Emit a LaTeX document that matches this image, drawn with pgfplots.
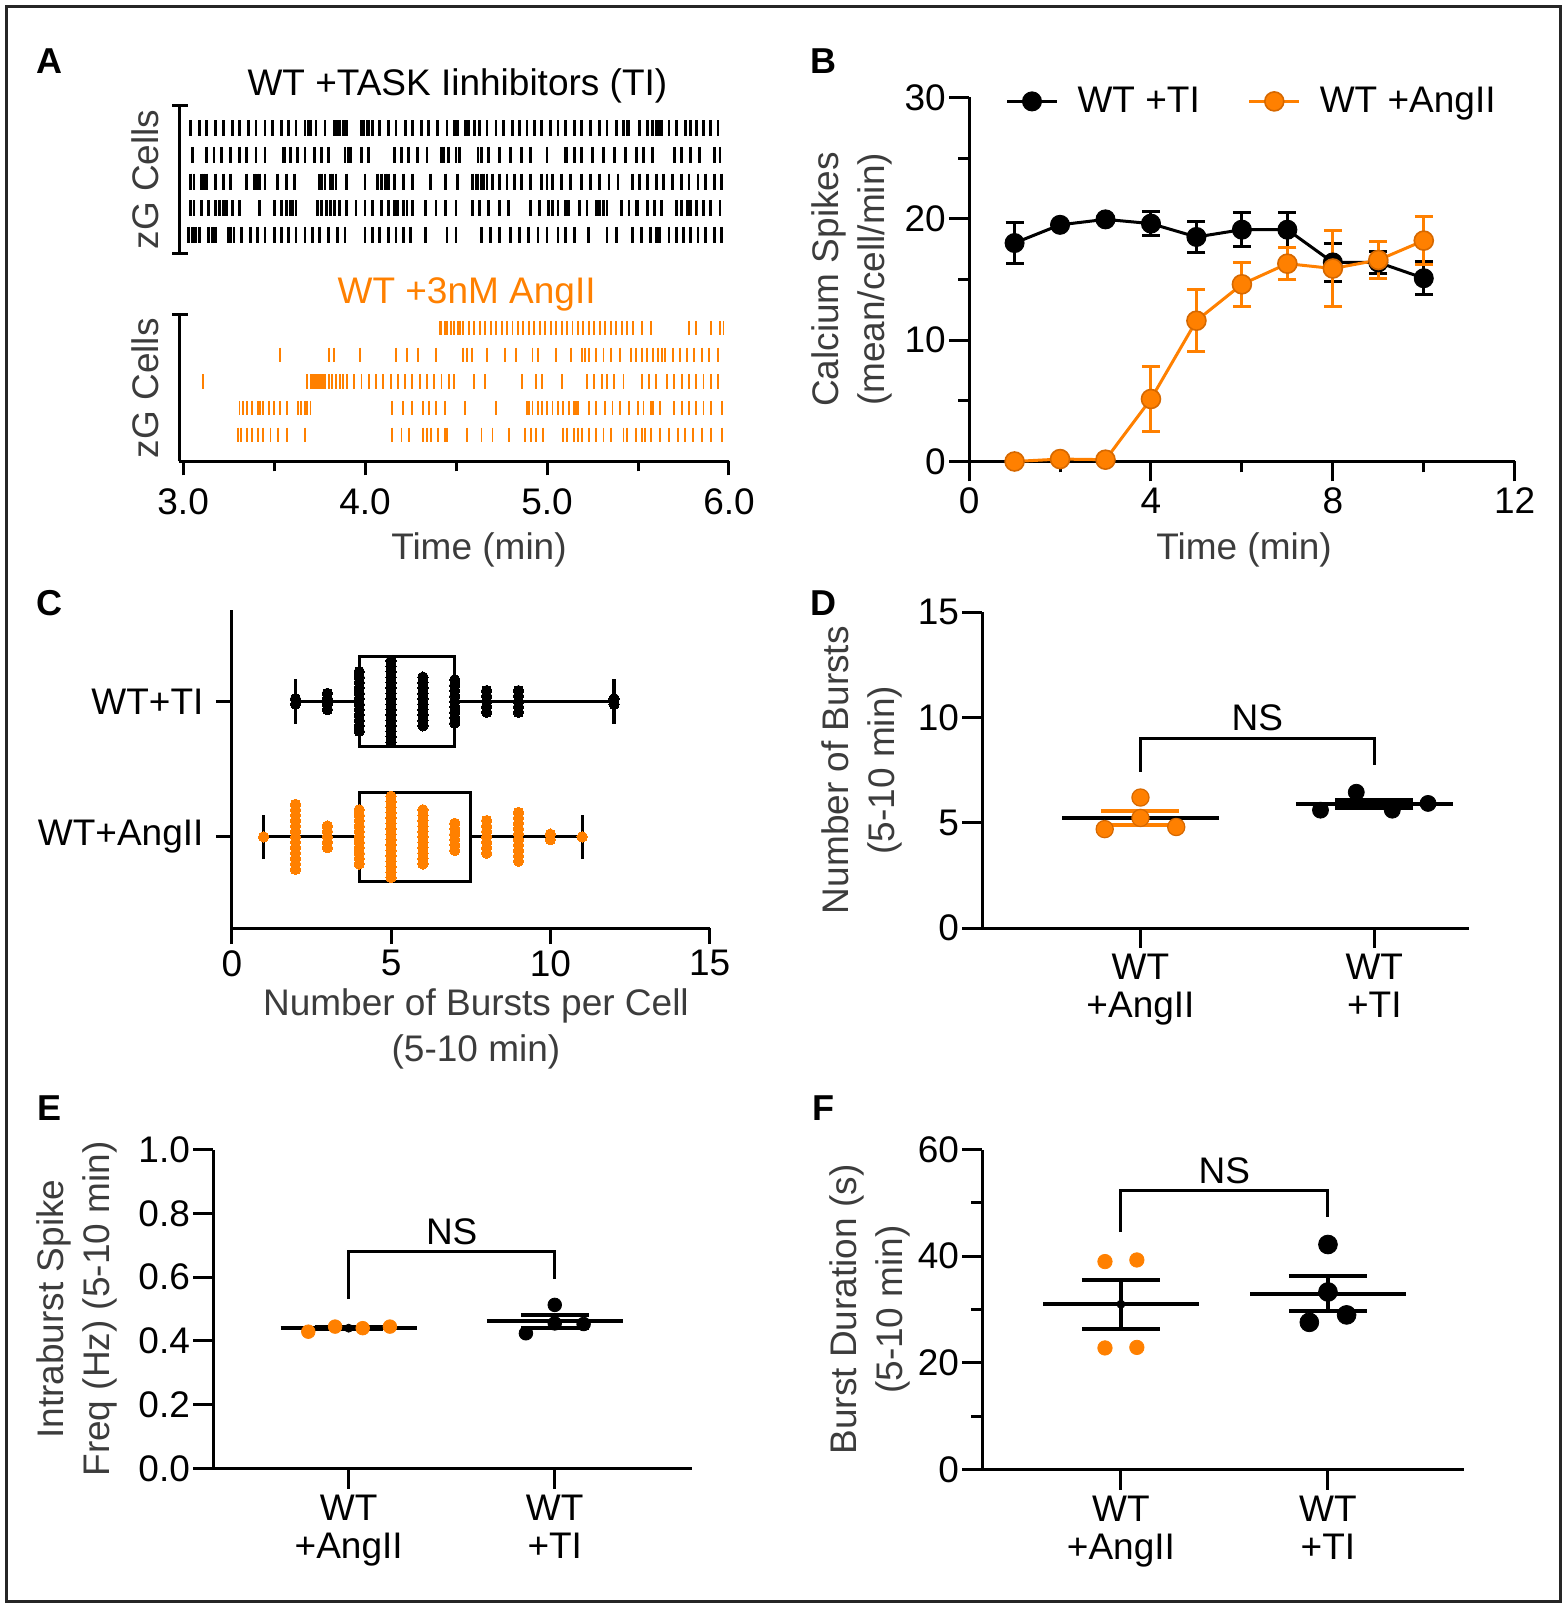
\documentclass[border=0pt]{standalone}
\usepackage{fontspec}
\setmainfont{Liberation Sans}
\usepackage{pgfplots}
\pgfplotsset{compat=1.18}
\usepgfplotslibrary{statistics}
\definecolor{org}{RGB}{255,128,0}
\definecolor{orgd}{RGB}{214,104,0}
\definecolor{lab}{RGB}{60,60,60}
\newcommand{\tfont}{\fontsize{18.5}{19}\selectfont}
\newcommand{\lfont}{\fontsize{18.5}{23}\selectfont}
\pgfplotsset{
  base/.style={
    scale only axis, anchor=south west, clip=false,
    axis x line=bottom, axis y line=left,
    axis line style={line width=1.5pt, -},
    tick style={line width=1.5pt, black},
    tick align=outside,
    major tick length=10pt, minor tick length=5.5pt,
    /pgf/number format/assume math mode=true,
    tick label style={font=\tfont, black},
    xticklabel style={inner sep=3pt},
    yticklabel style={inner sep=1.5pt},
    label style={font=\lfont, text=lab},
    title style={font=\lfont},
  },
  raster/.style={only marks, mark=|, mark size=4pt, mark options={line width=1.4pt}, black},
  oraster/.style={only marks, mark=|, mark size=3.6pt, mark options={line width=0.95pt}, org},
}
\begin{document}
\begin{tikzpicture}
\path (0,0) rectangle (783.5pt,804pt);
\draw[line width=1.5pt, black!85] (3.1pt,3.1pt) rectangle (780.4pt,800.9pt);
% panel letters
\begin{scope}[every node/.style={font=\fontsize{18}{20}\selectfont\bfseries}]
\node at (24.6pt,773.25pt) {A};
\node at (411.75pt,773.25pt) {B};
\node at (24.6pt,502.5pt) {C};
\node at (411.75pt,502.5pt) {D};
\node at (24.6pt,249.7pt) {E};
\node at (411.75pt,249.7pt) {F};
\end{scope}

% ---------- A top raster ----------
\begin{axis}[base, at={(89.75pt,677.35pt)}, width=274.75pt, height=73.85pt,
  xmin=2.98, xmax=6, ymin=0.31, ymax=5.85, axis x line=none, xtick=\empty, ytick=\empty,
  title={WT +TASK Iinhibitors (TI)}, title style={at={(axis description cs:0.5057,1)}, anchor=base, yshift=-1.2pt, text=black},
  ylabel={zG Cells}, ylabel style={at={(axis description cs:-0.0617,0.5)}, anchor=center}]
\draw[line width=1.5pt] ([xshift=-3.5pt]rel axis cs:0,0) -- ([xshift=4.5pt]rel axis cs:0,0);
\draw[line width=1.5pt] ([xshift=-3.5pt]rel axis cs:0,1) -- ([xshift=4.5pt]rel axis cs:0,1);
\addplot[raster] coordinates {(3.04,5)(3.09,5)(3.13,5)(3.18,5)(3.22,5)(3.27,5)(3.31,5)(3.36,5)(3.40,5)(3.45,5)(3.49,5)(3.54,5)(3.58,5)(3.62,5)(3.67,5)(3.69,5)(3.70,5)(3.73,5)(3.78,5)(3.83,5)(3.85,5)(3.86,5)(3.88,5)(3.90,5)(3.98,5)(3.99,5)(4.01,5)(4.02,5)(4.04,5)(4.08,5)(4.13,5)(4.17,5)(4.22,5)(4.26,5)(4.31,5)(4.35,5)(4.40,5)(4.45,5)(4.49,5)(4.51,5)(4.55,5)(4.57,5)(4.60,5)(4.63,5)(4.67,5)(4.72,5)(4.76,5)(4.81,5)(4.85,5)(4.89,5)(4.93,5)(4.97,5)(5.02,5)(5.06,5)(5.10,5)(5.15,5)(5.19,5)(5.24,5)(5.29,5)(5.33,5)(5.38,5)(5.42,5)(5.44,5)(5.45,5)(5.51,5)(5.55,5)(5.58,5)(5.60,5)(5.62,5)(5.63,5)(5.67,5)(5.71,5)(5.76,5)(5.79,5)(5.82,5)(5.86,5)(5.90,5)(5.94,5)};
\addplot[raster] coordinates {(3.05,4)(3.13,4)(3.17,4)(3.21,4)(3.26,4)(3.31,4)(3.35,4)(3.40,4)(3.45,4)(3.55,4)(3.56,4)(3.59,4)(3.63,4)(3.67,4)(3.72,4)(3.76,4)(3.80,4)(3.89,4)(3.91,4)(3.92,4)(3.98,4)(4.02,4)(4.16,4)(4.20,4)(4.24,4)(4.29,4)(4.34,4)(4.42,4)(4.43,4)(4.46,4)(4.50,4)(4.52,4)(4.62,4)(4.64,4)(4.68,4)(4.74,4)(4.80,4)(4.86,4)(4.91,4)(5.00,4)(5.10,4)(5.11,4)(5.15,4)(5.19,4)(5.25,4)(5.31,4)(5.37,4)(5.43,4)(5.49,4)(5.53,4)(5.58,4)(5.70,4)(5.74,4)(5.79,4)(5.84,4)(5.92,4)(5.95,4)};
\addplot[raster] coordinates {(3.04,3)(3.06,3)(3.10,3)(3.11,3)(3.13,3)(3.18,3)(3.22,3)(3.26,3)(3.35,3)(3.39,3)(3.41,3)(3.42,3)(3.45,3)(3.52,3)(3.57,3)(3.61,3)(3.75,3)(3.76,3)(3.78,3)(3.81,3)(3.82,3)(3.84,3)(3.90,3)(4.00,3)(4.07,3)(4.09,3)(4.11,3)(4.13,3)(4.16,3)(4.21,3)(4.26,3)(4.36,3)(4.44,3)(4.51,3)(4.59,3)(4.61,3)(4.62,3)(4.64,3)(4.65,3)(4.67,3)(4.70,3)(4.74,3)(4.78,3)(4.82,3)(4.86,3)(4.91,3)(4.97,3)(5.00,3)(5.03,3)(5.08,3)(5.13,3)(5.19,3)(5.24,3)(5.29,3)(5.34,3)(5.39,3)(5.47,3)(5.51,3)(5.55,3)(5.60,3)(5.64,3)(5.69,3)(5.74,3)(5.78,3)(5.83,3)(5.87,3)(5.92,3)(5.96,3)};
\addplot[raster] coordinates {(3.04,2)(3.06,2)(3.10,2)(3.14,2)(3.18,2)(3.20,2)(3.22,2)(3.24,2)(3.27,2)(3.31,2)(3.42,2)(3.50,2)(3.54,2)(3.57,2)(3.59,2)(3.60,2)(3.62,2)(3.74,2)(3.76,2)(3.79,2)(3.81,2)(3.83,2)(3.86,2)(3.90,2)(3.95,2)(4.00,2)(4.04,2)(4.09,2)(4.13,2)(4.16,2)(4.18,2)(4.21,2)(4.23,2)(4.26,2)(4.33,2)(4.39,2)(4.44,2)(4.50,2)(4.59,2)(4.63,2)(4.68,2)(4.74,2)(4.79,2)(4.91,2)(4.96,2)(5.01,2)(5.03,2)(5.06,2)(5.10,2)(5.12,2)(5.18,2)(5.22,2)(5.27,2)(5.29,2)(5.31,2)(5.33,2)(5.41,2)(5.45,2)(5.49,2)(5.50,2)(5.55,2)(5.59,2)(5.63,2)(5.71,2)(5.74,2)(5.77,2)(5.79,2)(5.82,2)(5.86,2)(5.90,2)(5.95,2)};
\addplot[raster] coordinates {(3.03,1)(3.05,1)(3.07,1)(3.09,1)(3.14,1)(3.16,1)(3.18,1)(3.25,1)(3.26,1)(3.28,1)(3.32,1)(3.37,1)(3.41,1)(3.45,1)(3.50,1)(3.54,1)(3.58,1)(3.62,1)(3.67,1)(3.71,1)(3.75,1)(3.80,1)(3.85,1)(3.89,1)(4.00,1)(4.04,1)(4.08,1)(4.13,1)(4.17,1)(4.21,1)(4.25,1)(4.33,1)(4.45,1)(4.50,1)(4.64,1)(4.69,1)(4.74,1)(4.80,1)(4.85,1)(4.90,1)(4.95,1)(5.00,1)(5.06,1)(5.10,1)(5.15,1)(5.23,1)(5.33,1)(5.38,1)(5.47,1)(5.52,1)(5.57,1)(5.60,1)(5.62,1)(5.67,1)(5.71,1)(5.75,1)(5.79,1)(5.83,1)(5.87,1)(5.92,1)(5.96,1)};
\end{axis}

% ---------- A bottom raster ----------
\begin{axis}[base, at={(89.75pt,573.25pt)}, width=274.75pt, height=73.35pt,
  xmin=2.98, xmax=6, ymin=0, ymax=5.5, ytick=\empty,
  xtick={3,4,5,6}, minor xtick={3.5,4.5,5.5}, major tick length=7pt, minor tick length=5pt,
  xticklabel style={inner sep=6.5pt, /pgf/number format/.cd, fixed, fixed zerofill, precision=1},
  title={WT +3nM AngII}, title style={at={(axis description cs:0.5225,1)}, anchor=base, yshift=-0.3pt, text=org},
  ylabel={zG Cells}, ylabel style={at={(axis description cs:-0.0617,0.5)}, anchor=center},
  xlabel={Time (min)}, xlabel style={at={(axis description cs:0.545,0)}, anchor=north, inner sep=0pt, yshift=-35.3pt}]
\draw[line width=1.5pt] ([xshift=-3.5pt]rel axis cs:0,1) -- ([xshift=4.5pt]rel axis cs:0,1);
\addplot[oraster] coordinates {(4.41,5)(4.42,5)(4.44,5)(4.45,5)(4.47,5)(4.49,5)(4.51,5)(4.52,5)(4.54,5)(4.57,5)(4.60,5)(4.63,5)(4.66,5)(4.69,5)(4.72,5)(4.75,5)(4.78,5)(4.81,5)(4.84,5)(4.87,5)(4.90,5)(4.93,5)(4.96,5)(4.99,5)(5.02,5)(5.05,5)(5.08,5)(5.11,5)(5.14,5)(5.17,5)(5.20,5)(5.23,5)(5.26,5)(5.29,5)(5.32,5)(5.35,5)(5.38,5)(5.41,5)(5.44,5)(5.47,5)(5.52,5)(5.57,5)(5.78,5)(5.82,5)(5.90,5)(5.95,5)(5.97,5)};
\addplot[oraster] coordinates {(3.53,4)(3.80,4)(3.83,4)(3.97,4)(4.17,4)(4.23,4)(4.29,4)(4.39,4)(4.54,4)(4.56,4)(4.59,4)(4.67,4)(4.77,4)(4.83,4)(4.92,4)(4.95,4)(5.05,4)(5.13,4)(5.19,4)(5.21,4)(5.23,4)(5.27,4)(5.31,4)(5.35,4)(5.40,4)(5.46,4)(5.49,4)(5.52,4)(5.55,4)(5.58,4)(5.61,4)(5.63,4)(5.65,4)(5.69,4)(5.73,4)(5.77,4)(5.81,4)(5.85,4)(5.89,4)(5.94,4)};
\addplot[oraster] coordinates {(3.11,3)(3.68,3)(3.70,3)(3.71,3)(3.72,3)(3.73,3)(3.74,3)(3.75,3)(3.76,3)(3.77,3)(3.78,3)(3.80,3)(3.82,3)(3.84,3)(3.86,3)(3.88,3)(3.90,3)(3.94,3)(3.98,3)(4.02,3)(4.06,3)(4.10,3)(4.14,3)(4.18,3)(4.22,3)(4.26,3)(4.30,3)(4.34,3)(4.38,3)(4.42,3)(4.46,3)(4.49,3)(4.60,3)(4.66,3)(4.86,3)(4.94,3)(4.97,3)(5.08,3)(5.22,3)(5.26,3)(5.30,3)(5.33,3)(5.37,3)(5.42,3)(5.52,3)(5.56,3)(5.60,3)(5.66,3)(5.70,3)(5.74,3)(5.78,3)(5.82,3)(5.86,3)(5.90,3)(5.94,3)};
\addplot[oraster] coordinates {(3.31,2)(3.33,2)(3.35,2)(3.38,2)(3.41,2)(3.42,2)(3.44,2)(3.47,2)(3.50,2)(3.53,2)(3.57,2)(3.63,2)(3.65,2)(3.67,2)(3.68,2)(3.70,2)(4.15,2)(4.21,2)(4.26,2)(4.32,2)(4.35,2)(4.39,2)(4.44,2)(4.55,2)(4.72,2)(4.89,2)(4.90,2)(4.92,2)(4.95,2)(4.97,2)(5.00,2)(5.03,2)(5.06,2)(5.09,2)(5.12,2)(5.15,2)(5.16,2)(5.17,2)(5.23,2)(5.27,2)(5.32,2)(5.36,2)(5.40,2)(5.45,2)(5.50,2)(5.53,2)(5.57,2)(5.58,2)(5.62,2)(5.70,2)(5.74,2)(5.78,2)(5.82,2)(5.86,2)(5.90,2)(5.96,2)};
\addplot[oraster] coordinates {(3.30,1)(3.32,1)(3.35,1)(3.38,1)(3.41,1)(3.44,1)(3.48,1)(3.52,1)(3.57,1)(3.67,1)(4.15,1)(4.20,1)(4.24,1)(4.32,1)(4.34,1)(4.36,1)(4.40,1)(4.44,1)(4.45,1)(4.56,1)(4.64,1)(4.70,1)(4.79,1)(4.88,1)(4.91,1)(4.94,1)(4.98,1)(5.09,1)(5.11,1)(5.15,1)(5.17,1)(5.19,1)(5.23,1)(5.27,1)(5.31,1)(5.35,1)(5.42,1)(5.44,1)(5.49,1)(5.52,1)(5.54,1)(5.57,1)(5.62,1)(5.67,1)(5.72,1)(5.76,1)(5.80,1)(5.85,1)(5.90,1)(5.96,1)};
\end{axis}

% ---------- B ----------
\begin{axis}[base, at={(484.55pt,573.25pt)}, width=272.8pt, height=182.05pt,
  xmin=0, xmax=12, ymin=0, ymax=30, xtick={0,4,8,12}, minor xtick={2,6,10},
  ytick={0,10,20,30}, minor ytick={5,15,25},
  xlabel={Time (min)}, xlabel style={at={(axis description cs:0.504,0)}, anchor=north, inner sep=0pt, yshift=-35.3pt},
  ylabel={Calcium Spikes\\(mean/cell/min)}, ylabel style={align=center, at={(axis description cs:-0.2152,0.5)}, anchor=center},
  legend columns=2,
  legend style={draw=none, fill=none, at={(0.066,0.989)}, anchor=west, font=\tfont, inner sep=0pt,
    nodes={inner sep=0pt}, /tikz/every odd column/.append style={column sep=9.5pt},
    /tikz/every even column/.append style={column sep=24pt}},
  legend image code/.code={\draw[mark repeat=2,mark phase=2,#1] plot coordinates {(0pt,0pt) (12.5pt,0pt) (25pt,0pt)};}]
\addplot[black, line width=1.5pt, mark=*, mark size=4.75pt, mark options={solid, fill=black, line width=0.5pt},
  error bars/.cd, y dir=both, y explicit, error bar style={line width=1.5pt, black},
  error mark options={rotate=90, line width=1.5pt, mark size=4.5pt, black}]
  coordinates {(1,18.0) +- (0,1.7) (2,19.5) +- (0,0) (3,19.95) +- (0,0) (4,19.6) +- (0,1.0) (5,18.5) +- (0,1.3)
  (6,19.1) +- (0,1.4) (7,19.1) +- (0,1.45) (8,16.4) +- (0,1.6) (9,16.4) +- (0,0.9) (10,15.1) +- (0,1.35)};
\addlegendentry{WT +TI}
\addplot[org, line width=1.5pt, mark=*, mark size=4.75pt, mark options={solid, fill=org, draw=orgd, line width=0.8pt},
  error bars/.cd, y dir=both, y explicit, error bar style={line width=1.5pt, org},
  error mark options={rotate=90, line width=1.5pt, mark size=4.5pt, org}]
  coordinates {(1,0.0) +- (0,0) (2,0.2) +- (0,0) (3,0.15) +- (0,0) (4,5.15) +- (0,2.65) (5,11.6) +- (0,2.55)
  (6,14.6) +- (0,1.8) (7,16.3) +- (0,1.3) (8,15.9) +- (0,3.1) (9,16.6) +- (0,1.5) (10,18.2) +- (0,1.95)};
\addlegendentry{WT +AngII}
\end{axis}

% ---------- C ----------
\begin{axis}[base, at={(115.9pt,339.95pt)}, width=238.9pt, height=158.95pt,
  xmin=0, xmax=15, ymin=0.326, ymax=2.674, xtick={0,5,10,15}, ytick={1,2},
  yticklabels={WT+AngII,WT+TI}, major tick length=8pt, yticklabel style={inner sep=6pt},
  boxplot/draw direction=x,
  xlabel={Number of Bursts per Cell\\(5-10 min)},
  xlabel style={align=center, at={(axis description cs:0.511,0)}, anchor=north, inner sep=0pt, yshift=-30.3pt}]
\addplot[black, line width=1.6pt, boxplot prepared={draw position=2, lower whisker=2, lower quartile=4,
  median=5, upper quartile=7, upper whisker=12, box extend=0.66, whisker extend=0.33}] coordinates {};
\addplot[black, line width=1.6pt, boxplot prepared={draw position=1, lower whisker=1, lower quartile=4,
  median=5, upper quartile=7.5, upper whisker=11, box extend=0.66, whisker extend=0.33}] coordinates {};
\addplot[only marks, mark=*, mark size=2.6pt, mark options={fill=black, draw=black, line width=0pt}] coordinates {
(2,1.98)(2,2.02)
(3,1.94)(3,1.98)(3,2.02)(3,2.06)
(4,1.78)(4,1.82)(4,1.86)(4,1.90)(4,1.94)(4,1.98)(4,2.02)(4,2.06)(4,2.10)(4,2.14)(4,2.18)(4,2.22)
(5,1.70)(5,1.74)(5,1.78)(5,1.82)(5,1.86)(5,1.90)(5,1.94)(5,1.98)(5,2.02)(5,2.06)(5,2.10)(5,2.14)(5,2.18)(5,2.22)(5,2.26)(5,2.30)
(6,1.82)(6,1.86)(6,1.90)(6,1.94)(6,1.98)(6,2.02)(6,2.06)(6,2.10)(6,2.14)(6,2.18)
(7,1.84)(7,1.88)(7,1.92)(7,1.96)(7,2.00)(7,2.04)(7,2.08)(7,2.12)(7,2.16)
(8,1.92)(8,1.96)(8,2.00)(8,2.04)(8,2.08)
(9,1.92)(9,1.96)(9,2.00)(9,2.04)(9,2.08)
(12,1.98)(12,2.02)};
\addplot[only marks, mark=*, mark size=2.6pt, mark options={fill=org, draw=org, line width=0pt}] coordinates {
(1,1.00)
(2,0.76)(2,0.80)(2,0.84)(2,0.88)(2,0.92)(2,0.96)(2,1.00)(2,1.04)(2,1.08)(2,1.12)(2,1.16)(2,1.20)(2,1.24)
(3,0.92)(3,0.96)(3,1.00)(3,1.04)(3,1.08)
(4,0.80)(4,0.84)(4,0.88)(4,0.92)(4,0.96)(4,1.00)(4,1.04)(4,1.08)(4,1.12)(4,1.16)(4,1.20)
(5,0.70)(5,0.74)(5,0.78)(5,0.82)(5,0.86)(5,0.90)(5,0.94)(5,0.98)(5,1.02)(5,1.06)(5,1.10)(5,1.14)(5,1.18)(5,1.22)(5,1.26)(5,1.30)
(6,0.80)(6,0.84)(6,0.88)(6,0.92)(6,0.96)(6,1.00)(6,1.04)(6,1.08)(6,1.12)(6,1.16)(6,1.20)
(7,0.90)(7,0.94)(7,0.98)(7,1.02)(7,1.06)(7,1.10)
(8,0.88)(8,0.92)(8,0.96)(8,1.00)(8,1.04)(8,1.08)(8,1.12)
(9,0.82)(9,0.86)(9,0.90)(9,0.94)(9,0.98)(9,1.02)(9,1.06)(9,1.10)(9,1.14)(9,1.18)
(10,0.98)(10,1.02)
(11,1.00)};
\end{axis}

% ---------- D ----------
\begin{axis}[base, at={(491.2pt,339.95pt)}, width=243.05pt, height=157.95pt,
  xmin=0.324, xmax=2.403, ymin=0, ymax=15, xtick={1,2},
  xticklabels={{WT\\+AngII},{WT\\+TI}}, xticklabel style={align=center},
  ytick={0,5,10,15},
  ylabel={Number of Bursts\\(5-10 min)}, ylabel style={align=center, at={(axis description cs:-0.248,0.5)}, anchor=center}]
\addplot[black, line width=1.5pt] coordinates {(1,7.42) (1,8.98) (2,8.98) (2,7.73)};
\node[font=\tfont] at (axis cs:1.5,10.0) {NS};
\addplot[black, line width=2pt] coordinates {(0.665,5.23) (1.335,5.23)};
\addplot[only marks, mark=none, error bars/.cd, y dir=both, y explicit, error bar style={line width=2pt, org},
  error mark options={rotate=90, line width=2pt, mark size=19.5pt, org}] coordinates {(1,5.23) +- (0,0.34)};
\addplot[only marks, mark=*, mark size=4.3pt, mark options={fill=org, draw=orgd, line width=0.6pt}]
  coordinates {(0.847,4.7) (1,6.2) (1,5.23) (1.153,4.8)};
\addplot[black, line width=2pt] coordinates {(1.665,5.89) (2.335,5.89)};
\addplot[only marks, mark=none, error bars/.cd, y dir=both, y explicit, error bar style={line width=2pt, black},
  error mark options={rotate=90, line width=2pt, mark size=19.5pt, black}] coordinates {(2,5.89) +- (0,0.2)};
\addplot[only marks, mark=*, mark size=4pt, mark options={fill=black, draw=black}]
  coordinates {(1.77,5.6) (1.923,6.45) (2.077,5.6) (2.23,5.92)};
\end{axis}

% ---------- E ----------
\begin{axis}[base, at={(106.65pt,69.75pt)}, width=239.45pt, height=159.45pt,
  xmin=0.343, xmax=2.667, ymin=0, ymax=1, xtick={1,2},
  xticklabels={{WT\\+AngII},{WT\\+TI}}, xticklabel style={align=center},
  ytick={0,0.2,0.4,0.6,0.8,1},
  yticklabel style={/pgf/number format/.cd, fixed, fixed zerofill, precision=1},
  ylabel={Intraburst Spike\\Freq (Hz) (5-10 min)}, ylabel style={align=center, at={(axis description cs:-0.285,0.5)}, anchor=center}]
\addplot[black, line width=1.5pt] coordinates {(1,0.531) (1,0.680) (2,0.680) (2,0.593)};
\node[font=\tfont] at (axis cs:1.5,0.742) {NS};
\addplot[black, line width=2pt] coordinates {(0.67,0.44) (1.33,0.44)};
\addplot[only marks, mark=none, error bars/.cd, y dir=both, y explicit, error bar style={line width=2pt, black},
  error mark options={rotate=90, line width=2pt, mark size=17pt, black}] coordinates {(1,0.44) +- (0,0.004)};
\addplot[only marks, mark=*, mark size=3.4pt, mark options={fill=org, draw=org}]
  coordinates {(0.804,0.429) (0.934,0.445) (1.068,0.440) (1.2,0.445)};
\addplot[black, line width=2pt] coordinates {(1.67,0.461) (2.33,0.461)};
\addplot[only marks, mark=none, error bars/.cd, y dir=both, y explicit, error bar style={line width=2pt, black},
  error mark options={rotate=90, line width=2pt, mark size=17pt, black}] coordinates {(2,0.461) +- (0,0.019)};
\addplot[only marks, mark=*, mark size=3.4pt, mark options={fill=black, draw=black}]
  coordinates {(1.86,0.424) (2,0.513) (2,0.455) (2.14,0.453)};
\end{axis}

% ---------- F ----------
\begin{axis}[base, at={(491.2pt,69.25pt)}, width=241pt, height=159.95pt,
  xmin=0.331, xmax=2.659, ymin=0, ymax=60, xtick={1,2},
  xticklabels={{WT\\+AngII},{WT\\+TI}}, xticklabel style={align=center},
  ytick={0,20,40,60}, minor ytick={10,30,50},
  ylabel={Burst Duration (s)\\(5-10 min)}, ylabel style={align=center, at={(axis description cs:-0.234,0.5)}, anchor=center}]
\addplot[black, line width=1.5pt] coordinates {(1,44.5) (1,52.3) (2,52.3) (2,47.3)};
\node[font=\tfont] at (axis cs:1.5,56.0) {NS};
\addplot[black, line width=2pt] coordinates {(0.625,31.0) (1.375,31.0)};
\addplot[only marks, mark=none, error bars/.cd, y dir=both, y explicit, error bar style={line width=2pt, black},
  error mark options={rotate=90, line width=2pt, mark size=19.5pt, black}] coordinates {(1,31.0) +- (0,4.6)};
\addplot[only marks, mark=*, mark size=3.6pt, mark options={fill=org, draw=org}]
  coordinates {(0.923,39.0) (1.077,39.3) (0.923,22.8) (1.077,22.9)};
\addplot[black, line width=2pt] coordinates {(1.625,33.0) (2.375,33.0)};
\addplot[only marks, mark=none, error bars/.cd, y dir=both, y explicit, error bar style={line width=2pt, black},
  error mark options={rotate=90, line width=2pt, mark size=19.5pt, black}] coordinates {(2,33.0) +- (0,3.3)};
\addplot[only marks, mark=*, mark size=4.7pt, mark options={fill=black, draw=black}]
  coordinates {(2,42.2) (2,33.3) (1.91,27.6) (2.09,29.0)};
\end{axis}
\end{tikzpicture}
\end{document}
